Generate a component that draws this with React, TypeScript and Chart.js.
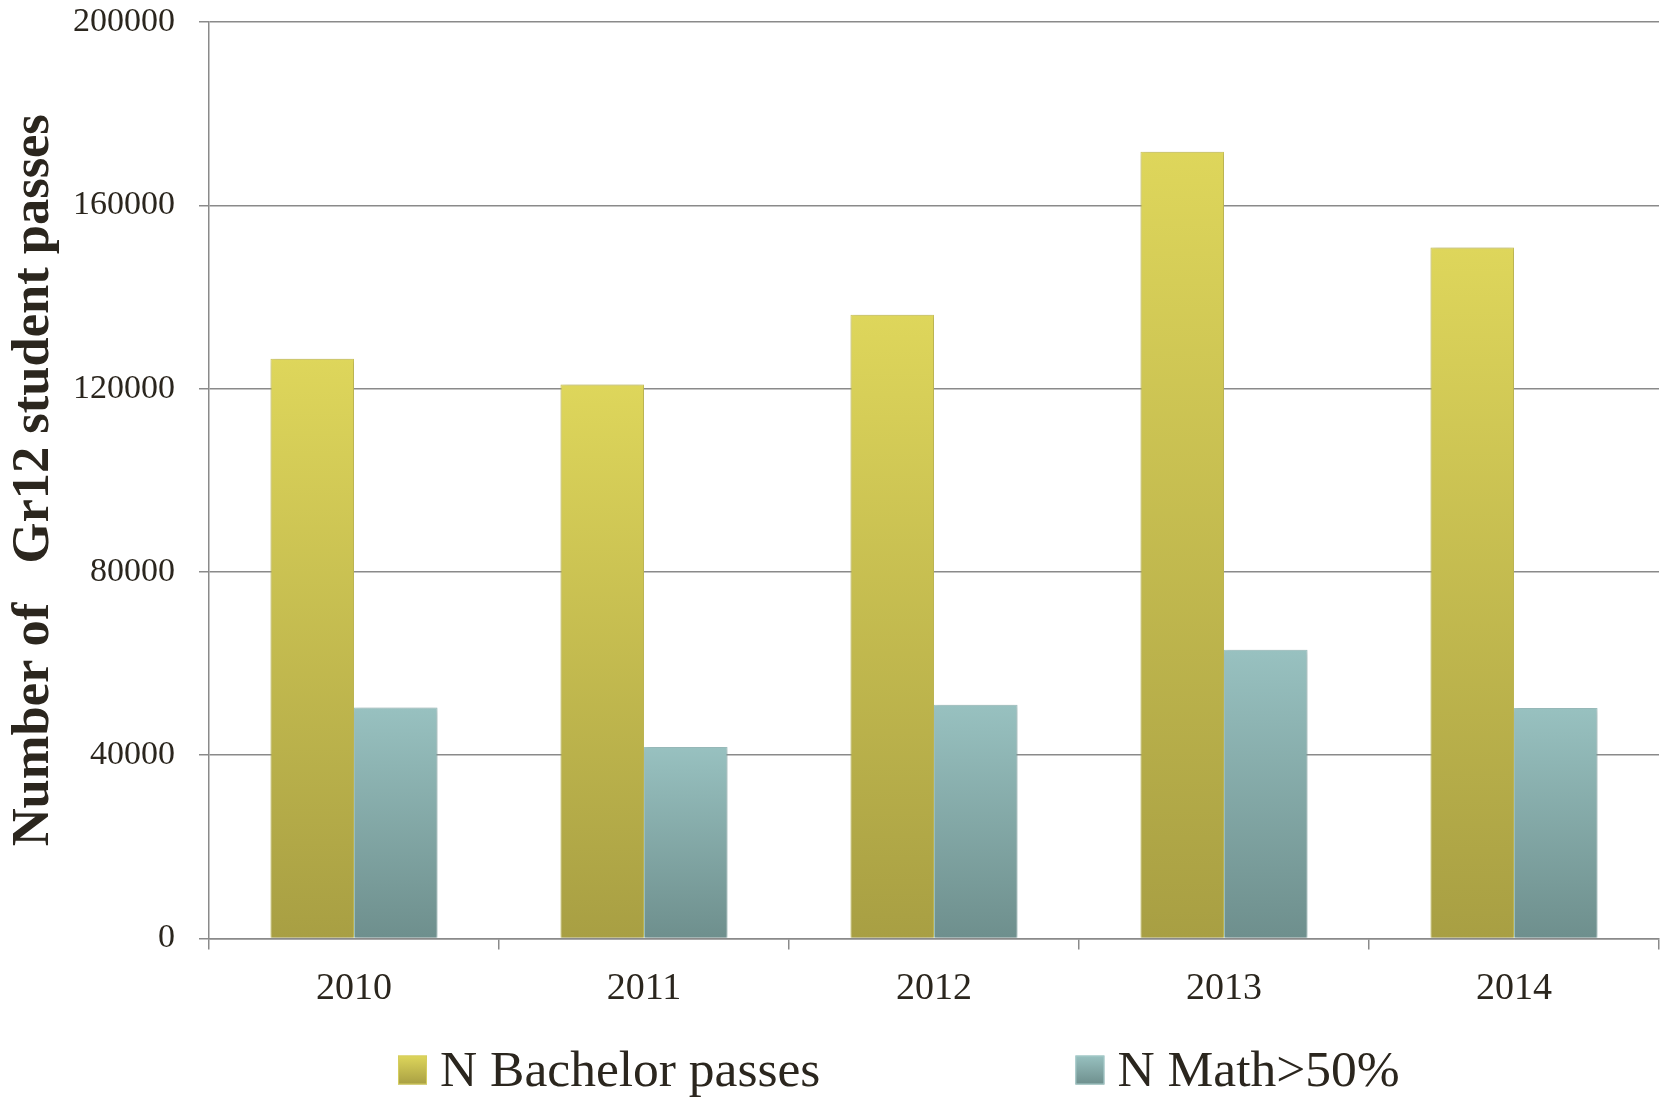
import { useEffect, useRef } from "react";
import { Chart, registerables } from "chart.js";

Chart.register(...registerables);

// ---- data ----
const years = ["2010", "2011", "2012", "2013", "2014"];
const bachelorPasses = [126500, 120900, 136100, 171700, 150800];
const mathAbove50 = [50400, 41800, 51000, 63000, 50300];
const yTickValues = [0, 40000, 80000, 120000, 160000, 200000];
const seriesNames = ["N Bachelor passes", "N Math>50%"];
const yAxisTitle = "Number of   Gr12 student passes";

// ---- styling ----
const FONT = '"Liberation Serif", "Times New Roman", serif';
const INK = "#2b261e";
const GRID = "#8a8a8a";
const YELLOW_TOP = "#ded65b";
const YELLOW_BOTTOM = "#a89f43";
const YELLOW_EDGE = "#d5cd5e";
const TEAL_TOP = "#98c1c0";
const TEAL_BOTTOM = "#6e8f8d";
const TEAL_EDGE = "#a6cbca";

const W = 1661;
const H = 1097;

// vertical gradient running from the top of each bar down to the zero line
function barGradient(top: string, bottom: string) {
  return (ctx: any) => {
    const chart = ctx.chart;
    const y = chart.scales?.y;
    if (!chart.chartArea || !y || typeof ctx.raw !== "number") return top;
    const y0 = y.getPixelForValue(ctx.raw);
    const y1 = y.getPixelForValue(0);
    const g = chart.ctx.createLinearGradient(0, y0, 0, y1);
    g.addColorStop(0, top);
    g.addColorStop(1, bottom);
    return g;
  };
}

// soft drop shadow behind the bars
const barShadow = {
  id: "barShadow",
  beforeDatasetsDraw(chart: any) {
    const c = chart.ctx;
    c.save();
    c.shadowColor = "rgba(0,0,0,0.22)";
    c.shadowBlur = 6;
    c.shadowOffsetX = 1;
    c.shadowOffsetY = 0;
  },
  afterDatasetsDraw(chart: any) {
    chart.ctx.restore();
  },
};

// legend row under the category axis
const bottomLegend = {
  id: "bottomLegend",
  afterDraw(chart: any) {
    const c = chart.ctx;
    const area = chart.chartArea;
    const tops = [YELLOW_TOP, TEAL_TOP];
    const bottoms = [YELLOW_BOTTOM, TEAL_BOTTOM];
    const edges = [YELLOW_EDGE, TEAL_EDGE];
    const box = 29;
    const boxTop = area.bottom + 117;
    const baseline = boxTop + 30;
    const gap = 255;
    c.save();
    c.font = `51.5px ${FONT}`;
    c.textBaseline = "alphabetic";
    c.textAlign = "left";
    let x = area.left + 189;
    seriesNames.forEach((name, i) => {
      const g = c.createLinearGradient(0, boxTop, 0, boxTop + box);
      g.addColorStop(0, tops[i]);
      g.addColorStop(1, bottoms[i]);
      c.fillStyle = g;
      c.fillRect(x, boxTop, box, box);
      c.strokeStyle = edges[i];
      c.lineWidth = 1;
      c.strokeRect(x + 0.5, boxTop + 0.5, box - 1, box - 1);
      c.fillStyle = INK;
      const tx = x + box + 13;
      c.fillText(name, tx, baseline);
      x = tx + c.measureText(name).width + gap;
    });
    c.restore();
  },
};

export default function App() {
  const canvasRef = useRef<HTMLCanvasElement | null>(null);

  useEffect(() => {
    if (!canvasRef.current) return;
    const chart = new Chart(canvasRef.current, {
      type: "bar",
      data: {
        labels: years,
        datasets: [
          {
            label: seriesNames[0],
            data: bachelorPasses,
            backgroundColor: barGradient(YELLOW_TOP, YELLOW_BOTTOM),
            borderColor: YELLOW_EDGE,
            borderWidth: 1,
            categoryPercentage: 0.576,
            barPercentage: 1,
          },
          {
            label: seriesNames[1],
            data: mathAbove50,
            backgroundColor: barGradient(TEAL_TOP, TEAL_BOTTOM),
            borderColor: TEAL_EDGE,
            borderWidth: 1,
            categoryPercentage: 0.576,
            barPercentage: 1,
          },
        ],
      },
      options: {
        animation: false,
        responsive: false,
        layout: { padding: { top: 22, right: 2, left: 0, bottom: 0 } },
        plugins: {
          legend: { display: false },
          tooltip: { enabled: false },
        },
        scales: {
          x: {
            grid: {
              display: true,
              drawOnChartArea: false,
              drawTicks: true,
              tickLength: 11,
              color: GRID,
              lineWidth: 1.5,
              offset: true,
            },
            border: { display: true, color: GRID, width: 1.5 },
            ticks: {
              font: { family: FONT, size: 38 },
              color: INK,
              padding: 17,
            },
            afterFit: (s: any) => {
              s.height = 158.5;
            },
          },
          y: {
            min: 0,
            max: 200000,
            afterBuildTicks: (s: any) => {
              s.ticks = yTickValues.map((v) => ({ value: v }));
            },
            grid: { color: GRID, lineWidth: 1.5, tickLength: 10 },
            border: { display: true, color: GRID, width: 1.5 },
            ticks: {
              font: { family: FONT, size: 34 },
              color: INK,
              padding: 24,
              callback: (v: any) => String(v),
            },
            title: {
              display: true,
              text: yAxisTitle,
              font: { family: FONT, size: 52.5, weight: "bold" },
              color: INK,
              padding: { top: 3, bottom: 0 },
            },
            afterFit: (s: any) => {
              s.width = 209;
              s.paddingTop = 0;
              s.paddingBottom = 0;
            },
          },
        },
      },
      plugins: [barShadow, bottomLegend],
    });
    return () => chart.destroy();
  }, []);

  return (
    <div style={{ position: "absolute", left: 0, top: 0, width: W, height: H, background: "#fff" }}>
      <canvas ref={canvasRef} width={W} height={H} style={{ display: "block" }} />
    </div>
  );
}
